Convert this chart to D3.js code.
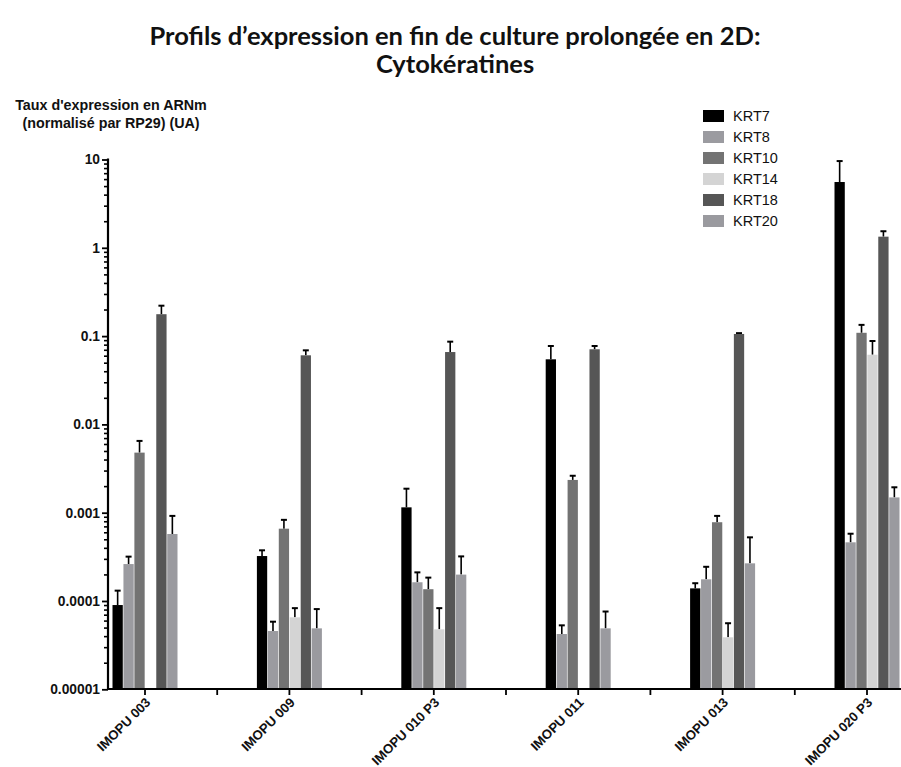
<!DOCTYPE html>
<html>
<head>
<meta charset="utf-8">
<script src="https://cdn.jsdelivr.net/npm/d3@7"></script>
<style>
  html, body { margin: 0; padding: 0; background: #fff; }
  svg { display: block; }
</style>
</head>
<body>
<svg id="chart" width="901" height="767"></svg>
<script>
// ---- data ----
const groups = ["IMOPU 003", "IMOPU 009", "IMOPU 010 P3", "IMOPU 011", "IMOPU 013", "IMOPU 020 P3"];
const series = ["KRT7", "KRT8", "KRT10", "KRT14", "KRT18", "KRT20"];
const krt7  = [9.0e-5, 3.23e-4, 1.15e-3, 0.0546, 1.39e-4, 5.56];
const krt8  = [2.62e-4, 4.57e-5, 1.63e-4, 4.23e-5, 1.76e-4, 4.62e-4];
const krt10 = [4.79e-3, 6.59e-4, 1.36e-4, 2.35e-3, 7.8e-4, 0.109];
const krt14 = [null, 6.53e-5, 4.78e-5, null, 3.88e-5, 0.0615];
const krt18 = [0.177, 0.0606, 0.066, 0.0709, 0.1057, 1.337];
const krt20 = [5.74e-4, 4.9e-5, 1.99e-4, 4.9e-5, 2.67e-4, 1.49e-3];
const err7  = [4.1e-5, 5.2e-5, 7.2e-4, 0.0227, 2.0e-5, 4.04];
const err8  = [5.6e-5, 1.26e-5, 4.8e-5, 1.07e-5, 6.8e-5, 1.16e-4];
const err10 = [1.71e-3, 1.71e-4, 4.8e-5, 2.7e-4, 1.4e-4, 0.025];
const err14 = [null, 1.77e-5, 3.52e-5, null, 1.72e-5, 0.0265];
const err18 = [0.044, 0.0084, 0.0205, 0.0064, 0.0023, 0.203];
const err20 = [3.46e-4, 3.2e-5, 1.21e-4, 2.7e-5, 2.59e-4, 4.5e-4];
const yTickValues = [0.00001, 0.0001, 0.001, 0.01, 0.1, 1, 10];
const yTickLabels = ["0.00001", "0.0001", "0.001", "0.01", "0.1", "1", "10"];
const colors = ["#000000", "#9b9ba0", "#737373", "#d4d4d4", "#565656", "#9a9a9f"];

const values = [krt7, krt8, krt10, krt14, krt18, krt20];
const errors = [err7, err8, err10, err14, err18, err20];

// ---- layout ----
const svg = d3.select("#chart");
const axisX0 = 108, axisY = 689;
const sans = "'Liberation Sans', Arial, Helvetica, sans-serif";

const x = d3.scaleBand().domain(groups).range([72.8, 939.2]);
const xInner = d3.scaleBand().domain(series).range([-32.5, 32.5]).paddingInner(0.06);
const y = d3.scaleLog().domain([1e-5, 10]).range([689.3, 159.5]);

// title
const title = svg.append("text")
  .attr("text-anchor", "middle")
  .style("font-family", "Lato, 'Open Sans', sans-serif")
  .style("font-weight", "bold")
  .style("font-size", "25.5px")
  .attr("fill", "#111");
title.append("tspan").attr("x", 455).attr("y", 45).text("Profils d’expression en fin de culture prolongée en 2D:");
title.append("tspan").attr("x", 455).attr("y", 73).text("Cytokératines");

// y axis title
const yt = svg.append("text")
  .attr("text-anchor", "middle")
  .style("font-family", sans).style("font-weight", "bold").style("font-size", "14.3px")
  .attr("fill", "#111");
yt.append("tspan").attr("x", 111).attr("y", 110).text("Taux d'expression en ARNm");
yt.append("tspan").attr("x", 111).attr("y", 128).text("(normalisé par RP29) (UA)");

// y axis
const minorTicks = [];
for (let e = -5; e < 1; e++) {
  for (let m = 2; m <= 9; m++) minorTicks.push(m * Math.pow(10, e));
}
const yAxisG = svg.append("g").attr("transform", `translate(${axisX0},0)`);
yAxisG.call(d3.axisLeft(y).tickValues(minorTicks).tickSize(4).tickFormat(""))
  .call(g => g.select(".domain").remove())
  .call(g => g.selectAll("line").attr("stroke", "#000").attr("stroke-width", 1.6));
const yMajor = svg.append("g").attr("transform", `translate(${axisX0},0)`);
yMajor.call(d3.axisLeft(y).tickValues(yTickValues).tickSize(6).tickPadding(2)
    .tickFormat((d, i) => yTickLabels[i]))
  .call(g => g.select(".domain").remove())
  .call(g => g.selectAll("line").attr("stroke", "#000").attr("stroke-width", 1.8))
  .call(g => g.selectAll("text")
    .style("font-family", sans).style("font-weight", "bold").style("font-size", "13.8px")
    .attr("fill", "#111"));
svg.append("line")
  .attr("x1", axisX0).attr("x2", axisX0)
  .attr("y1", y(10) - 1).attr("y2", axisY + 1)
  .attr("stroke", "#000").attr("stroke-width", 2.2);

// bars
const flat = [];
groups.forEach((g, gi) => {
  series.forEach((s, si) => {
    const v = values[si][gi];
    if (v != null) flat.push({ g, s, si, v, e: errors[si][gi] });
  });
});
const cx = d => x(d.g) + x.bandwidth() / 2 + xInner(d.s) + xInner.bandwidth() / 2;

const barsG = svg.append("g");
barsG.selectAll("line.err").data(flat).join("line").attr("class", "err")
  .attr("x1", cx).attr("x2", cx)
  .attr("y1", d => y(d.v)).attr("y2", d => y(d.v + d.e))
  .attr("stroke", "#000").attr("stroke-width", 1.6);
barsG.selectAll("line.cap").data(flat).join("line").attr("class", "cap")
  .attr("x1", d => cx(d) - 3).attr("x2", d => cx(d) + 3)
  .attr("y1", d => y(d.v + d.e)).attr("y2", d => y(d.v + d.e))
  .attr("stroke", "#000").attr("stroke-width", 2);
barsG.selectAll("rect").data(flat).join("rect")
  .attr("x", d => x(d.g) + x.bandwidth() / 2 + xInner(d.s))
  .attr("width", xInner.bandwidth())
  .attr("y", d => y(d.v))
  .attr("height", d => axisY - y(d.v))
  .attr("fill", d => colors[d.si]);

// x axis
svg.append("line")
  .attr("x1", axisX0 - 1).attr("x2", 901)
  .attr("y1", axisY).attr("y2", axisY)
  .attr("stroke", "#000").attr("stroke-width", 2.2);
const xAxisG = svg.append("g").attr("transform", `translate(0,${axisY})`);
xAxisG.call(d3.axisBottom(x).tickSize(6).tickPadding(4))
  .call(g => g.select(".domain").remove())
  .call(g => g.selectAll("line").attr("stroke", "#000").attr("stroke-width", 1.8))
  .call(g => g.selectAll("text")
    .style("font-family", sans).style("font-weight", "bold").style("font-size", "13.2px")
    .attr("fill", "#111")
    .attr("text-anchor", "end")
    .attr("dy", "0.35em")
    .attr("transform", "translate(3,11) rotate(-45)")
    .attr("x", 0).attr("y", 0));
// minor ticks between groups
const boundaries = groups.slice(1).map(g => x(g));
svg.append("g").selectAll("line").data(boundaries).join("line")
  .attr("x1", d => d).attr("x2", d => d)
  .attr("y1", axisY).attr("y2", axisY + 6)
  .attr("stroke", "#000").attr("stroke-width", 1.8);

// legend
const leg = svg.append("g");
series.forEach((s, i) => {
  const ly = 116 + i * 21;
  leg.append("rect").attr("x", 703).attr("y", ly - 6).attr("width", 21).attr("height", 12)
    .attr("fill", colors[i]);
  leg.append("text").attr("x", 733).attr("y", ly + 5)
    .style("font-family", sans).style("font-size", "14.5px").attr("fill", "#111").text(s);
});
</script>
</body>
</html>
